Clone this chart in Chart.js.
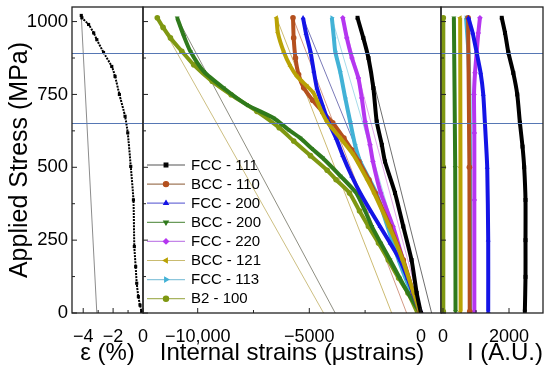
<!DOCTYPE html>
<html><head><meta charset="utf-8">
<script src="https://cdn.jsdelivr.net/npm/chart.js@4"></script>
<style>
body{margin:0;background:#fff;}
#wrap{position:relative;width:550px;height:375px;background:#fff;}
canvas{position:absolute;left:0;top:0;}
</style></head><body>
<div id="wrap">
<canvas id="c1" width="550" height="375"></canvas>
<canvas id="c2" width="550" height="375"></canvas>
<canvas id="c3" width="550" height="375"></canvas>
</div>
<script>
// ---------- tick labels ----------
const yTicks = [0, 250, 500, 750, 1000];
const yTickLabels = ['0', '250', '500', '750', '1000'];
const yMinor = [125, 375, 625, 875];
const epsTicks = [-4, -2, 0];
const epsTickLabels = ['\u22124', '\u22122', '0'];
const epsMinor = [-3, -1];
const strainTicks = [-10000, -5000, 0];
const strainTickLabels = ['\u221210,000', '\u22125000', '0'];
const strainMinor = [-7500, -2500];
const intTicks = [0, 2000];
const intTickLabels = ['0', '2000'];
const intMinor = [1000];
const stressLines = [893, 653];

// ---------- series names ----------
const seriesNames = ['FCC - 111', 'BCC - 110', 'FCC - 200', 'BCC - 200', 'FCC - 220', 'BCC - 121', 'FCC - 113', 'B2 - 100'];

// ---------- macroscopic strain panel ----------
const macroStress = [0, 4, 27, 56, 102, 159, 228, 388, 503, 618, 675, 750, 812, 846, 894, 938, 961, 990, 1013, 1021];
const macroStrain = [0, -0.09, -0.2, -0.31, -0.42, -0.49, -0.58, -0.64, -0.82, -1.02, -1.2, -1.58, -1.87, -2.09, -2.64, -3.09, -3.3, -3.64, -4.09, -4.13];
const macroUnloadStress = [1021, 0];
const macroUnloadStrain = [-4.13, -3.09];

// ---------- internal strains ----------
const fcc111Stress = [1013, 944, 875, 772, 657, 577, 520, 412, 297, 182, 69, 0];
const fcc111Strain = [-2840, -2580, -2350, -2130, -1980, -1750, -1610, -1160, -790, -420, -190, 0];
const bcc110Stress = [1013, 944, 875, 818, 773, 730, 690, 653, 600, 560, 520, 457, 412, 297, 182, 69, 0];
const bcc110Strain = [-5730, -5700, -5620, -5480, -5250, -4850, -4400, -3950, -3450, -3100, -2780, -2330, -2050, -1380, -790, -340, -50];
const fcc200Stress = [1013, 960, 898, 830, 772, 715, 657, 600, 540, 470, 412, 350, 297, 240, 182, 120, 69, 0];
const fcc200Strain = [-5280, -5150, -4950, -4800, -4660, -4420, -4150, -3800, -3500, -3100, -2720, -2250, -1830, -1380, -940, -600, -360, -20];
const bcc200Stress = [1013, 950, 898, 829, 772, 715, 669, 630, 600, 565, 532, 470, 412, 350, 297, 240, 182, 120, 69, 0];
const bcc200Strain = [-10920, -10620, -10330, -9730, -8840, -7810, -6600, -5950, -5400, -4900, -4400, -3600, -2900, -2500, -2200, -1800, -1380, -950, -580, -30];
const fcc220Stress = [1013, 944, 875, 806, 738, 657, 577, 520, 412, 297, 182, 69, 0];
const fcc220Strain = [-3500, -3320, -3090, -2800, -2650, -2500, -2280, -2150, -1800, -1250, -800, -340, 0];
const bcc121Stress = [1013, 962, 895, 847, 812, 778, 755, 700, 657, 601, 543, 457, 412, 297, 182, 69, 0];
const bcc121Strain = [-6470, -6410, -6140, -5850, -5550, -5100, -4810, -4500, -4210, -3620, -3030, -2400, -2100, -1420, -820, -330, -30];
const fcc113Stress = [1013, 944, 898, 829, 738, 657, 577, 520, 412, 297, 182, 69, 0];
const fcc113Strain = [-3990, -3900, -3840, -3620, -3390, -3170, -2950, -2720, -2000, -1500, -1000, -420, 0];
const b2100Stress = [1013, 980, 944, 898, 852, 795, 749, 692, 636, 590, 540, 490, 457, 412, 350, 297, 240, 182, 120, 69, 0];
const b2100Strain = [-11810, -11550, -11220, -10710, -10180, -9350, -8500, -7350, -6350, -5700, -4950, -4200, -3800, -3200, -2750, -2350, -1900, -1460, -1000, -580, -150];

// elastic unloading lines (top stress 1013 -> 0)
const unloadStress = [1013, 0];
const unloadTopStrain = [-2840, -5730, -5280, -10920, -3500, -6470, -3990, -11810];
const unloadBottomStrain = [480, -640, 100, -3840, 50, -1310, -100, -4360];

// ---------- intensities ----------
const fcc111IntStress = [1013, 961, 894, 824, 750, 653, 571, 500, 388, 250, 124, 5];
const fcc111Int = [1780, 1880, 1980, 2130, 2250, 2330, 2410, 2460, 2500, 2500, 2500, 2480];
const bcc110IntStress = [1013, 500, 5];
const bcc110Int = [760, 800, 810];
const fcc200IntStress = [1013, 961, 894, 824, 750, 653, 500, 250, 5];
const fcc200Int = [770, 900, 1020, 1140, 1220, 1270, 1340, 1370, 1370];
const bcc200IntStress = [1013, 500, 5];
const bcc200Int = [330, 370, 380];
const fcc220IntStress = [1013, 961, 894, 824, 750, 618, 388, 5];
const fcc220Int = [1120, 1070, 1020, 970, 940, 950, 950, 950];
const bcc121IntStress = [1013, 500, 5];
const bcc121Int = [520, 530, 535];
const fcc113IntStress = [1013, 894, 750, 500, 5];
const fcc113Int = [700, 770, 800, 820, 820];
const b2100IntStress = [1013, 500, 5];
const b2100Int = [10, 10, 10];

// ---------- styles ----------
const colors = ['#000000', '#b4501e', '#1414e6', '#2f7a1c', '#b536f0', '#b9a204', '#42b2d6', '#7f9812'];
const legendLineColors = ['#555555', '#a0785a', '#7070d8', '#6a9a5a', '#c486e8', '#c9bb70', '#8cc6dc', '#a8b460'];
const unloadColors = ['#6e6e6e', '#d39a86', '#7a7ab8', '#8e8e82', '#e2a6e8', '#cdbb72', '#a8dcea', '#cdbf82'];
const pointStyles = ['rect', 'circle', 'triangle', 'triangle', 'rectRot', 'triangle', 'triangle', 'circle'];
const pointRots = [0, 0, 0, 180, 0, 270, 90, 0];
const drawOrder = [0, 3, 2, 5, 4, 1, 6, 7];

const FONT = 'Arial, "Liberation Sans", sans-serif';
const TOP = 7, AXIS_H = 62;

function pts(xs, ys) { return xs.map((x, i) => ({ x: x, y: ys[i] })); }

const frameTicks = {
  id: 'frameTicks',
  afterDatasetsDraw(chart, args, o) {
    const { ctx, chartArea: a, scales } = chart;
    ctx.save();
    ctx.strokeStyle = '#5677b4'; ctx.lineWidth = 1.2;
    stressLines.forEach(v => {
      const y = Math.round(scales.y.getPixelForValue(v)) + 0.5;
      ctx.beginPath(); ctx.moveTo(a.left, y); ctx.lineTo(a.right, y); ctx.stroke();
    });
    ctx.strokeStyle = '#222'; ctx.lineWidth = 1.3;
    ctx.strokeRect(a.left, a.top, a.right - a.left, a.bottom - a.top);
    const seg = (x1, y1, x2, y2) => { ctx.beginPath(); ctx.moveTo(x1, y1); ctx.lineTo(x2, y2); ctx.stroke(); };
    ctx.lineWidth = 1;
    yTicks.forEach(v => { const y = scales.y.getPixelForValue(v); seg(a.left, y, a.left + 5, y); });
    yMinor.forEach(v => { const y = scales.y.getPixelForValue(v); seg(a.left, y, a.left + 3, y); });
    o.xMajor.forEach(v => { const x = scales.x.getPixelForValue(v); seg(x, a.bottom, x, a.bottom - 5); });
    o.xMinor.forEach(v => { const x = scales.x.getPixelForValue(v); seg(x, a.bottom, x, a.bottom - 3); });
    ctx.restore();
  }
};

function drawMarker(ctx, style, rot, x, y, r) {
  if (Chart.helpers && Chart.helpers.drawPoint) {
    Chart.helpers.drawPoint(ctx, { pointStyle: style, rotation: rot, radius: r, borderWidth: 1 }, x, y);
  } else {
    ctx.beginPath(); ctx.arc(x, y, r, 0, Math.PI * 2); ctx.fill();
  }
}

const insideLegend = {
  id: 'insideLegend',
  afterDraw(chart) {
    const ctx = chart.ctx;
    ctx.save();
    seriesNames.forEach((name, i) => {
      const y = 165 + i * 19.1;
      ctx.strokeStyle = legendLineColors[i]; ctx.lineWidth = 1.2;
      ctx.beginPath(); ctx.moveTo(147, y); ctx.lineTo(185, y); ctx.stroke();
      ctx.fillStyle = colors[i]; ctx.strokeStyle = colors[i];
      drawMarker(ctx, pointStyles[i], pointRots[i], 166, y, 2.6);
      ctx.fillStyle = '#000'; ctx.font = '15px ' + FONT; ctx.textBaseline = 'middle'; ctx.textAlign = 'left';
      ctx.fillText(name, 191, y + 0.5);
    });
    ctx.restore();
  }
};

function xScale(min, max, ticks, labels, title, align, pb) {
  return {
    type: 'linear', position: 'bottom', min: min, max: max,
    afterFit: s => { s.height = AXIS_H; s.paddingLeft = 0; s.paddingRight = 0; },
    afterBuildTicks: s => { s.ticks = ticks.map(v => ({ value: v })); },
    ticks: { color: '#000', font: { size: 18, family: FONT }, padding: 13, maxRotation: 0, autoSkip: false,
      callback: (v) => { const i = ticks.indexOf(v); return i >= 0 ? labels[i] : ''; } },
    grid: { display: false, drawTicks: false },
    border: { display: false },
    title: { display: true, text: title, color: '#000', align: align, font: { size: 24, family: FONT }, padding: { top: 0, bottom: pb } }
  };
}

function yScale(show) {
  return {
    type: 'linear', position: 'left', min: 0, max: 1050,
    display: show,
    afterFit: s => { s.width = show ? 72 : 0; s.paddingTop = 0; s.paddingBottom = 0; },
    afterBuildTicks: s => { s.ticks = yTicks.map(v => ({ value: v })); },
    ticks: { color: '#000', font: { size: 18.5, family: FONT }, padding: 4,
      callback: (v) => { const i = yTicks.indexOf(v); return i >= 0 ? yTickLabels[i] : ''; } },
    grid: { display: false, drawTicks: false },
    border: { display: false },
    title: { display: show, text: 'Applied Stress (MPa)', color: '#000', font: { size: 25, family: FONT }, padding: { top: 5, bottom: 0 } }
  };
}

function baseOptions(padding, xs, ys, ticksOpt) {
  return {
    responsive: false, animation: false, devicePixelRatio: 1,
    layout: { padding: padding },
    scales: { x: xs, y: ys },
    plugins: { legend: { display: false }, tooltip: { enabled: false }, frameTicks: ticksOpt },
    elements: { line: { tension: 0.2 } }
  };
}

// ---- chart 1: macroscopic strain ----
new Chart(document.getElementById('c1'), {
  type: 'scatter',
  data: { datasets: [
    { data: pts(macroUnloadStrain, macroUnloadStress), showLine: true, borderColor: '#8c8c8c', borderWidth: 1, pointRadius: 0, tension: 0, order: 2 },
    { data: pts(macroStrain, macroStress), showLine: true, borderColor: '#000', backgroundColor: '#000', borderWidth: 2, borderDash: [2, 1], pointRadius: 0.8, pointStyle: 'rect', order: 1 }
  ] },
  options: baseOptions({ left: 0, right: 550 - 143, top: TOP, bottom: 0 },
    xScale(-4.75, 0, epsTicks, epsTickLabels, '\u03b5 (%)', 'center', 7), yScale(true),
    { xMajor: epsTicks, xMinor: epsMinor }),
  plugins: [frameTicks]
});

// ---- chart 2: internal strains ----
const strainStress = [fcc111Stress, bcc110Stress, fcc200Stress, bcc200Stress, fcc220Stress, bcc121Stress, fcc113Stress, b2100Stress];
const strainVals = [fcc111Strain, bcc110Strain, fcc200Strain, bcc200Strain, fcc220Strain, bcc121Strain, fcc113Strain, b2100Strain];
const ds2 = [];
seriesNames.forEach((n, i) => {
  ds2.push({ label: n + ' unload', data: pts([unloadTopStrain[i], unloadBottomStrain[i]], unloadStress), showLine: true,
    borderColor: unloadColors[i], borderWidth: 1, pointRadius: 0, tension: 0, order: 20 + i });
});
seriesNames.forEach((n, i) => {
  ds2.push({ label: n, data: pts(strainVals[i], strainStress[i]), showLine: true,
    borderColor: colors[i], backgroundColor: colors[i], borderWidth: 4, pointRadius: 2.8,
    pointStyle: pointStyles[i], rotation: pointRots[i], pointBorderWidth: 0, order: drawOrder[i] });
});
new Chart(document.getElementById('c2'), {
  type: 'scatter',
  data: { datasets: ds2 },
  options: baseOptions({ left: 143, right: 550 - 441, top: TOP, bottom: 0 },
    xScale(-12450, 900, strainTicks, strainTickLabels, 'Internal strains (\u03bcstrains)', 'center', 7), yScale(false),
    { xMajor: strainTicks, xMinor: strainMinor }),
  plugins: [frameTicks, insideLegend]
});

// ---- chart 3: intensities ----
const intStress = [fcc111IntStress, bcc110IntStress, fcc200IntStress, bcc200IntStress, fcc220IntStress, bcc121IntStress, fcc113IntStress, b2100IntStress];
const intVals = [fcc111Int, bcc110Int, fcc200Int, bcc200Int, fcc220Int, bcc121Int, fcc113Int, b2100Int];
const ds3 = seriesNames.map((n, i) => ({
  label: n, data: pts(intVals[i], intStress[i]), showLine: true,
  borderColor: colors[i], backgroundColor: colors[i], borderWidth: 4, pointRadius: 2.8,
  pointStyle: pointStyles[i], rotation: pointRots[i], pointBorderWidth: 0, order: drawOrder[i]
}));
new Chart(document.getElementById('c3'), {
  type: 'scatter',
  data: { datasets: ds3 },
  options: baseOptions({ left: 441, right: 550 - 543, top: TOP, bottom: 0 },
    xScale(-60, 3030, intTicks, intTickLabels, 'I (A.U.)', 'end', 7), yScale(false),
    { xMajor: intTicks, xMinor: intMinor }),
  plugins: [frameTicks]
});
</script>
</body></html>
